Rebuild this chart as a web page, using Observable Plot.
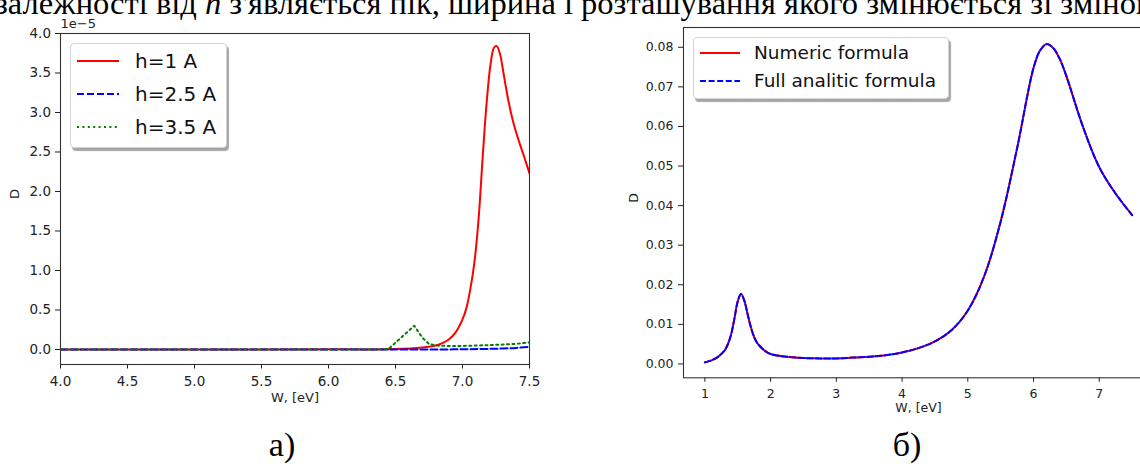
<!DOCTYPE html>
<html>
<head>
<meta charset="utf-8">
<script src="https://cdn.jsdelivr.net/npm/d3@7"></script>
<script src="https://cdn.jsdelivr.net/npm/@observablehq/plot@0.6"></script>
<style>
  html, body { margin: 0; padding: 0; background: #fff; }
  #page { position: relative; width: 1140px; height: 464px; overflow: hidden; background: #fff; }
  .abs { position: absolute; }
  .serif { font-family: "Liberation Serif", "Times New Roman", serif; white-space: nowrap; color: #000; }
  .legend { position: absolute; background: #fff; border: 1px solid #d4d4d4; border-radius: 4px; box-shadow: 2px 3px 1px rgba(0,0,0,0.35); box-sizing: border-box; }
  .legend .lbl { position: absolute; font-family: "DejaVu Sans", sans-serif; white-space: nowrap; color: #111; transform: translateY(-50%); line-height: 1; }
  .legend svg { position: absolute; overflow: visible; }
</style>
</head>
<body>
<div id="page"></div>
<script>
// ---------- data ----------
// Panel a): D (×1e-5) vs W [eV]
const seriesNamesA = ["h=1 A", "h=2.5 A", "h=3.5 A"];
const h1W = [4.0, 5.0, 6.0, 6.5, 6.7, 6.8, 6.85, 6.9, 6.95, 7.0, 7.03, 7.06, 7.09, 7.12, 7.15, 7.18, 7.21, 7.235, 7.255, 7.28, 7.30, 7.32, 7.34, 7.36, 7.38, 7.40, 7.43, 7.46, 7.5];
const h1D = [0.0, 0.0, 0.002, 0.005, 0.025, 0.05, 0.08, 0.13, 0.22, 0.38, 0.53, 0.78, 1.12, 1.65, 2.42, 3.12, 3.62, 3.82, 3.84, 3.74, 3.56, 3.36, 3.17, 3.01, 2.87, 2.75, 2.59, 2.44, 2.23];
const h25W = [4.0, 5.0, 6.0, 6.8, 7.0, 7.2, 7.3, 7.4, 7.5];
const h25D = [0.0, 0.0, 0.0, 0.0, 0.003, 0.008, 0.012, 0.02, 0.035];
const h35W = [4.0, 5.0, 6.0, 6.4, 6.45, 6.64, 6.7, 6.75, 6.8, 6.9, 7.0, 7.1, 7.2, 7.3, 7.4, 7.5];
const h35D = [0.0, 0.0, 0.0, 0.0, 0.01, 0.30, 0.15, 0.07, 0.05, 0.045, 0.045, 0.05, 0.055, 0.062, 0.072, 0.09];
const xTicksA = [4.0, 4.5, 5.0, 5.5, 6.0, 6.5, 7.0, 7.5];
const yTicksA = [0.0, 0.5, 1.0, 1.5, 2.0, 2.5, 3.0, 3.5, 4.0];

// Panel б): D vs W [eV]
const seriesNamesB = ["Numeric formula", "Full analitic formula"];
const bW = [1.0, 1.1, 1.2, 1.3, 1.35, 1.4, 1.45, 1.5, 1.55, 1.6, 1.65, 1.7, 1.75, 1.8, 1.9, 2.0, 2.25, 2.5, 2.75, 3.0, 3.25, 3.5, 3.75, 4.0, 4.25, 4.5, 4.75, 5.0, 5.25, 5.5, 5.75, 6.0, 6.1, 6.2, 6.3, 6.4, 6.5, 6.75, 7.0, 7.25, 7.5];
const numericD = [0.0004, 0.0009, 0.0018, 0.0034, 0.0050, 0.0075, 0.0115, 0.0158, 0.0177, 0.0160, 0.0126, 0.0093, 0.0068, 0.0052, 0.0035, 0.0025, 0.0018, 0.0015, 0.0014, 0.0014, 0.0016, 0.0018, 0.0022, 0.0029, 0.0040, 0.0057, 0.0085, 0.0135, 0.0222, 0.0360, 0.0545, 0.0748, 0.0792, 0.0808, 0.0798, 0.0770, 0.0727, 0.0600, 0.0497, 0.0430, 0.0376];
const analyticD = [0.0004, 0.0009, 0.0018, 0.0034, 0.0050, 0.0075, 0.0115, 0.0158, 0.0177, 0.0160, 0.0126, 0.0093, 0.0068, 0.0052, 0.0035, 0.0025, 0.0018, 0.0015, 0.0014, 0.0014, 0.0016, 0.0018, 0.0022, 0.0029, 0.0040, 0.0057, 0.0085, 0.0135, 0.0222, 0.0360, 0.0545, 0.0748, 0.0792, 0.0808, 0.0798, 0.0770, 0.0727, 0.0600, 0.0497, 0.0430, 0.0376];
const xTicksB = [1, 2, 3, 4, 5, 6, 7];
const yTicksB = [0.00, 0.01, 0.02, 0.03, 0.04, 0.05, 0.06, 0.07, 0.08];

const xLabel = "W, [eV]";
const yLabel = "D";
const expLabel = "1e\u22125";
const topTextParts = ["залежності від ", "h", " з'являється пік, ширина і розташування якого змінюється зі зміною ", "h"];
const panelLabels = ["а)", "б)"];

// ---------- styles ----------
const stylesA = [
  {stroke: "#ff0000", dash: null, width: 2},
  {stroke: "#0000ff", dash: "7,3", width: 2},
  {stroke: "#008000", dash: "2,3.4", width: 2}
];
const stylesB = [
  {stroke: "#ff0000", dash: null, width: 2},
  {stroke: "#0000ff", dash: "6,2.6", width: 2}
];

const page = document.getElementById("page");

// top text (cut off at the top, as in the reference)
const topText = document.createElement("div");
topText.className = "abs serif";
topText.style.fontSize = "32.5px";
topText.style.lineHeight = "32.5px";
topText.style.left = "-5px";
topText.style.top = "-12.7px";
topText.innerHTML = topTextParts.map((t, i) => i % 2 === 1 ? `<i>${t}</i>` : t).join("");
page.appendChild(topText);

// ---------- panel a ----------
const plotA = Plot.plot({
  width: 560, height: 420,
  marginLeft: 60, marginRight: 31, marginTop: 33, marginBottom: 56,
  style: {fontFamily: "DejaVu Sans, sans-serif", fontSize: "13.5px", color: "#222", background: "transparent", overflow: "visible"},
  x: {domain: [4, 7.5]},
  y: {domain: [-0.19, 4.0]},
  marks: [
    Plot.axisX({ticks: xTicksA, tickFormat: d3.format(".1f"), tickSize: 4.5, tickPadding: 7, fontSize: 13.5, label: null}),
    Plot.axisY({ticks: yTicksA, tickFormat: d3.format(".1f"), tickSize: 5, tickPadding: 4.5, fontSize: 13.5, label: null}),
    Plot.line(h1D, {x: h1W, y: h1D, stroke: stylesA[0].stroke, strokeWidth: stylesA[0].width, curve: "catmull-rom", clip: true}),
    Plot.line(h25D, {x: h25W, y: h25D, stroke: stylesA[1].stroke, strokeWidth: stylesA[1].width, strokeDasharray: stylesA[1].dash, curve: "monotone-x", clip: true}),
    Plot.line(h35D, {x: h35W, y: h35D, stroke: stylesA[2].stroke, strokeWidth: stylesA[2].width, strokeDasharray: stylesA[2].dash, curve: "linear", clip: true}),
    Plot.frame({stroke: "#333", strokeWidth: 1.1}),
    Plot.text([xLabel], {frameAnchor: "bottom", dy: 37.5, fontSize: 13, fill: "#222"}),
    Plot.text([yLabel], {frameAnchor: "left", dx: -46, rotate: -90, fontSize: 13, fill: "#222"}),
    Plot.text([expLabel], {frameAnchor: "top-left", dy: -15, textAnchor: "start", fontSize: 13, fill: "#222"})
  ]
});
plotA.style.position = "absolute";
plotA.style.left = "0px";
plotA.style.top = "0px";
page.appendChild(plotA);

// ---------- panel б ----------
const plotB = Plot.plot({
  width: 600, height: 440,
  marginLeft: 83, marginRight: 47, marginTop: 27, marginBottom: 62.7,
  style: {fontFamily: "DejaVu Sans, sans-serif", fontSize: "12.5px", color: "#222", background: "transparent", overflow: "visible"},
  x: {domain: [0.675, 7.825]},
  y: {domain: [-0.0035, 0.085]},
  marks: [
    Plot.axisX({ticks: xTicksB, tickFormat: d3.format("d"), tickSize: 4.5, tickPadding: 6.5, fontSize: 12.5, label: null}),
    Plot.axisY({ticks: yTicksB, tickFormat: d3.format(".2f"), tickSize: 5, tickPadding: 5, fontSize: 12.5, label: null}),
    Plot.line(numericD, {x: bW, y: numericD, stroke: stylesB[0].stroke, strokeWidth: stylesB[0].width, curve: "catmull-rom", clip: true}),
    Plot.line(analyticD, {x: bW, y: analyticD, stroke: stylesB[1].stroke, strokeWidth: stylesB[1].width, strokeDasharray: stylesB[1].dash, curve: "catmull-rom", clip: true}),
    Plot.frame({stroke: "#333", strokeWidth: 1.1}),
    Plot.text([xLabel], {frameAnchor: "bottom", dy: 34, fontSize: 12.5, fill: "#222"}),
    Plot.text([yLabel], {frameAnchor: "left", dx: -50, rotate: -90, fontSize: 12.5, fill: "#222"})
  ]
});
plotB.style.position = "absolute";
plotB.style.left = "600px";
plotB.style.top = "0px";
page.appendChild(plotB);

// ---------- legends ----------
function legend(box, names, styles, rows, lineX, textX, fontSize) {
  const d = document.createElement("div");
  d.className = "legend";
  d.style.left = box[0] + "px"; d.style.top = box[1] + "px";
  d.style.width = box[2] + "px"; d.style.height = box[3] + "px";
  names.forEach((n, i) => {
    const ns = "http://www.w3.org/2000/svg";
    const svg = document.createElementNS(ns, "svg");
    svg.setAttribute("width", lineX[1] - lineX[0]);
    svg.setAttribute("height", 4);
    svg.style.left = lineX[0] + "px";
    svg.style.top = (rows[i] - 2) + "px";
    const l = document.createElementNS(ns, "line");
    l.setAttribute("x1", 0); l.setAttribute("x2", lineX[1] - lineX[0]);
    l.setAttribute("y1", 2); l.setAttribute("y2", 2);
    l.setAttribute("stroke", styles[i].stroke);
    l.setAttribute("stroke-width", styles[i].width);
    if (styles[i].dash) l.setAttribute("stroke-dasharray", styles[i].dash);
    svg.appendChild(l);
    d.appendChild(svg);
    const t = document.createElement("div");
    t.className = "lbl";
    t.style.left = textX + "px";
    t.style.top = rows[i] + "px";
    t.style.fontSize = fontSize + "px";
    t.textContent = n;
    d.appendChild(t);
  });
  page.appendChild(d);
}
legend([70, 43, 157, 105], seriesNamesA, stylesA, [17, 49.5, 82.5], [6, 48], 64, 20);
legend([693, 37, 256, 62], seriesNamesB, stylesB, [14.5, 43], [6, 46], 60, 18.5);

// ---------- panel captions ----------
const capX = [282, 907];
panelLabels.forEach((s, i) => {
  const c = document.createElement("div");
  c.className = "abs serif";
  c.style.fontSize = "34px";
  c.style.lineHeight = "34px";
  c.style.left = capX[i] + "px";
  c.style.top = "427.5px";
  c.style.transform = "translateX(-50%)";
  c.textContent = s;
  page.appendChild(c);
});
</script>
</body>
</html>
